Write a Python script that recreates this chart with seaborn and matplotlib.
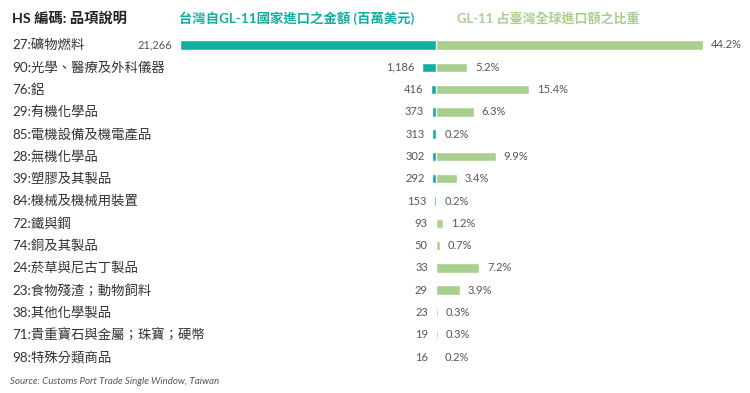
import matplotlib
matplotlib.use("Agg")
import matplotlib.pyplot as plt
import seaborn as sns
import pandas as pd

categories = ["27:礦物燃料", "90:光學、醫療及外科儀器", "76:鋁", "29:有機化學品",
              "85:電機設備及機電產品", "28:無機化學品", "39:塑膠及其製品",
              "84:機械及機械用裝置", "72:鐵與鋼", "74:銅及其製品",
              "24:菸草與尼古丁製品", "23:食物殘渣；動物飼料", "38:其他化學製品",
              "71:貴重寶石與金屬；珠寶；硬幣", "98:特殊分類商品"]
import_value = [21266, 1186, 416, 373, 313, 302, 292, 153, 93, 50, 33, 29, 23, 19, 16]
share_pct = [44.2, 5.2, 15.4, 6.3, 0.2, 9.9, 3.4, 0.2, 1.2, 0.7, 7.2, 3.9, 0.3, 0.3, 0.2]

header_cat = "HS 編碼: 品項說明"
header_left = "台灣自GL-11國家進口之金額 (百萬美元)"
header_right = "GL-11 占臺灣全球進口額之比重"
source = "Source: Customs Port Trade Single Window, Taiwan"

TEAL = "#12AFA0"
GREEN = "#A9CF8E"
TEXT = "#333333"
GRAY = "#555555"

sns.set_theme(style="white")
FAM = ["Lato", "Noto Sans CJK TC", "DejaVu Sans"]
plt.rcParams["font.family"] = FAM

df = pd.DataFrame({"cat": categories, "val": import_value, "pct": share_pct})

W, H = 750, 393
fig = plt.figure(figsize=(7.5, 3.93), dpi=100)

# row geometry in pixels
y_first, y_last = 45, 357
n = len(categories)
step = (y_last - y_first) / (n - 1)
top_px = y_first - step / 2
bot_px = y_last + step / 2
ax_bottom = 1 - bot_px / H
ax_height = (bot_px - top_px) / H

cx = 436
left_x0 = 180
right_x1 = 703

axL = fig.add_axes([left_x0 / W, ax_bottom, (cx - left_x0) / W, ax_height])
axR = fig.add_axes([cx / W, ax_bottom, (right_x1 - cx) / W, ax_height])

sns.barplot(data=df, y="cat", x="val", ax=axL, color=TEAL, width=0.42,
            saturation=1, orient="h")
sns.barplot(data=df, y="cat", x="pct", ax=axR, color=GREEN, width=0.42,
            saturation=1, orient="h")

axL.set_xlim(max(import_value), 0)
axR.set_xlim(0, max(share_pct))
for ax in (axL, axR):
    ax.set_ylim(n - 0.5, -0.5)
    ax.axis("off")

for i, (v, p) in enumerate(zip(import_value, share_pct)):
    axL.annotate(f"{v:,}", xy=(v, i), xytext=(-5.5, 0), textcoords="offset points",
                 ha="right", va="center", fontsize=8, color=GRAY,
                 annotation_clip=False)
    axR.annotate(f"{p:.1f}%", xy=(p, i), xytext=(5.5, 0), textcoords="offset points",
                 ha="left", va="center", fontsize=8, color=GRAY,
                 annotation_clip=False)

for i, c in enumerate(categories):
    y = 1 - (y_first + i * step) / H
    fig.text(12 / W, y, c, ha="left", va="center", fontsize=9.6, color=TEXT)

hy = 1 - 18 / H
fig.text(12 / W, hy, header_cat, ha="left", va="center", fontsize=10.3,
         fontweight="bold", color="#222222")
fig.text(297 / W, hy, header_left, ha="center", va="center", fontsize=9.6,
         fontweight="bold", color=TEAL)
fig.text(548 / W, hy, header_right, ha="center", va="center", fontsize=9.4,
         fontweight="bold", color=GREEN)
fig.text(10 / W, 1 - 381 / H, source, ha="left", va="center", fontsize=7,
         style="italic", color=GRAY)

fig.savefig("out.png", dpi=100, facecolor="white")
